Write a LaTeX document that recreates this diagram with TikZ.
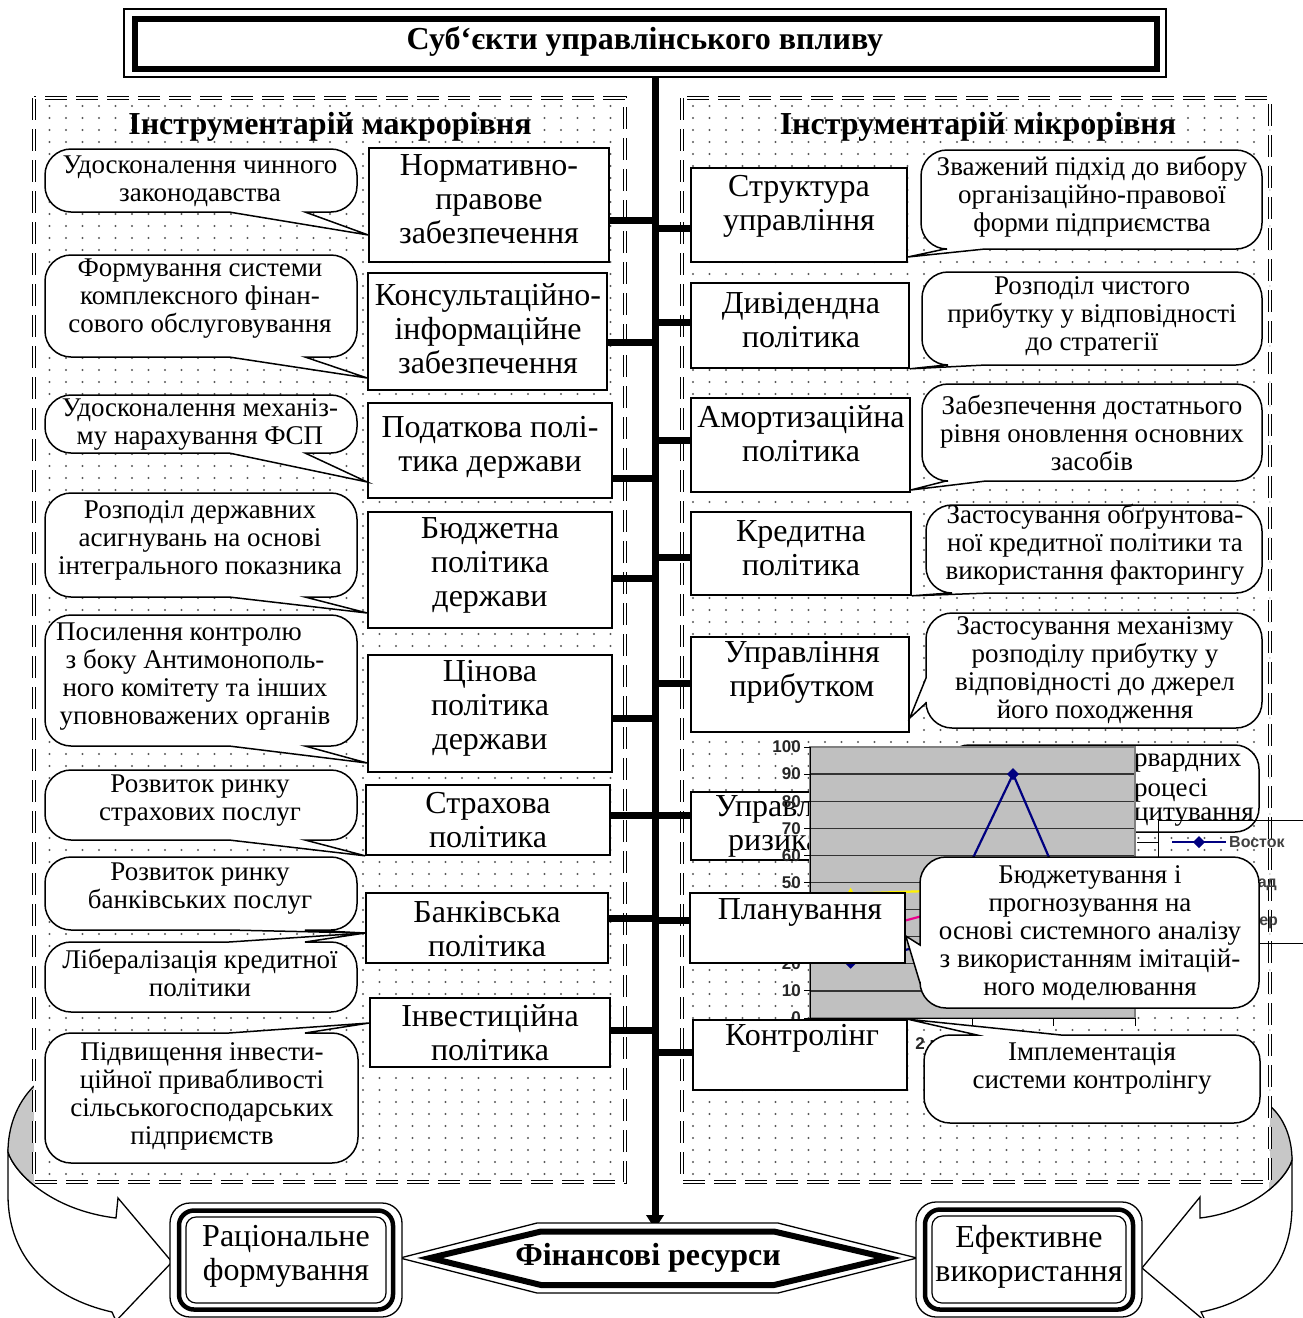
\documentclass[tikz,border=0pt]{standalone}
\usepackage{fontspec}
\setmainfont{Liberation Serif}
\newfontfamily\chartfont{Liberation Sans}
\usetikzlibrary{arrows.meta,patterns,calc}
\definecolor{navy}{RGB}{0,0,128}
\definecolor{chartgray}{RGB}{192,192,192}
\pgfdeclarepatternformonly{mydots}{\pgfqpoint{-1.5pt}{-1.5pt}}{\pgfqpoint{1.5pt}{1.5pt}}{\pgfqpoint{16.5pt}{12pt}}{\pgfpathcircle{\pgfqpoint{0pt}{0pt}}{1.2pt}\pgfusepath{fill}}
\def\crad{26}
\newcommand\rbox[5]{\node[box, minimum width={#4-#2}, minimum height={#5-#3}] (#1) at ({(#2+#4)/2},{(#3+#5)/2}) {};}
\newcommand\calB[7]{%
\path[callout] ({(#1+#3)/2},#2) -- ({#3-\crad},#2)
 .. controls ({#3-0.45*\crad},#2) and (#3,{#2+0.45*\crad}) .. (#3,{#2+\crad})
 -- (#3,{#4-\crad})
 .. controls (#3,{#4-0.45*\crad}) and ({#3-0.45*\crad},#4) .. ({#3-\crad},#4)
 -- (#6,#4) -- (#7) -- (#5,#4) -- ({#1+\crad},#4)
 .. controls ({#1+0.45*\crad},#4) and (#1,{#4-0.45*\crad}) .. (#1,{#4-\crad})
 -- (#1,{#2+\crad})
 .. controls (#1,{#2+0.45*\crad}) and ({#1+0.45*\crad},#2) .. ({#1+\crad},#2) -- cycle;}
\newcommand\calT[7]{%
\path[callout] ({(#1+#3)/2},#4) -- ({#1+\crad},#4)
 .. controls ({#1+0.45*\crad},#4) and (#1,{#4-0.45*\crad}) .. (#1,{#4-\crad})
 -- (#1,{#2+\crad})
 .. controls (#1,{#2+0.45*\crad}) and ({#1+0.45*\crad},#2) .. ({#1+\crad},#2)
 -- (#5,#2) -- (#7) -- (#6,#2) -- ({#3-\crad},#2)
 .. controls ({#3-0.45*\crad},#2) and (#3,{#2+0.45*\crad}) .. (#3,{#2+\crad})
 -- (#3,{#4-\crad})
 .. controls (#3,{#4-0.45*\crad}) and ({#3-0.45*\crad},#4) .. ({#3-\crad},#4) -- cycle;}
\newcommand\calL[7]{%
\path[callout] ({(#1+#3)/2},#2) -- ({#3-\crad},#2)
 .. controls ({#3-0.45*\crad},#2) and (#3,{#2+0.45*\crad}) .. (#3,{#2+\crad})
 -- (#3,{#4-\crad})
 .. controls (#3,{#4-0.45*\crad}) and ({#3-0.45*\crad},#4) .. ({#3-\crad},#4)
 -- ({#1+\crad},#4)
 .. controls ({#1+0.45*\crad},#4) and (#1,{#4-0.45*\crad}) .. (#1,{#4-\crad})
 -- (#1,#6) -- (#7) -- (#1,#5) -- (#1,{#2+\crad})
 .. controls (#1,{#2+0.45*\crad}) and ({#1+0.45*\crad},#2) .. ({#1+\crad},#2) -- cycle;}
\newcommand\dmd[2]{\fill[navy] (#1,{#2-6}) -- ({#1+6},#2) -- (#1,{#2+6}) -- ({#1-6},#2) -- cycle;}
\newcommand\sqm[2]{\fill[magenta] ({#1-4.5},{#2-4.5}) rectangle ({#1+4.5},{#2+4.5});}
\newcommand\trm[2]{\fill[yellow] (#1,{#2-6}) -- ({#1+6},{#2+5}) -- ({#1-6},{#2+5}) -- cycle;}
\newcommand\tribox[4]{%
 \draw[line width=1.3pt, fill=white, rounded corners=20pt] (#1,#2) rectangle (#3,#4);
 \draw[line width=4.5pt, rounded corners=15pt] ({#1+9},{#2+7.5}) rectangle ({#3-9},{#4-7.5});
 \draw[line width=1.2pt, rounded corners=10pt] ({#1+16},{#2+14}) rectangle ({#3-16},{#4-14});}
\begin{document}
\begin{tikzpicture}[x=1pt,y=-1pt,
  box/.style={draw, line width=1.6pt, fill=white, inner sep=0pt},
  btxt/.style={align=center, inner sep=0pt, font=\fontsize{32}{34}\selectfont},
  ctxt/.style={align=center, inner sep=0pt, font=\fontsize{27}{28}\selectfont},
  ttl/.style={inner sep=0pt, font=\fontsize{32}{34}\selectfont\bfseries},
  callout/.style={draw, fill=white, line width=1.5pt},
  conn/.style={line width=7pt},
  frame/.style={draw, double, double distance=2.2pt, line width=0.9pt, dash pattern=on 22pt off 9pt},
  axl/.style={inner sep=0pt, font=\chartfont\bfseries\fontsize{17}{17}\selectfont, text=black!85},
  lgl/.style={inner sep=0pt, font=\chartfont\bfseries\fontsize{16}{16}\selectfont, text=black!75},
  thin/.style={line width=1.3pt}]
\useasboundingbox (0,0) rectangle (1303,1318);
\clip (0,0) rectangle (1303,1318);

% ---------- curved arrows (behind frames)
\path[draw, fill=white, thin] (8,1152) .. controls (14,1172) and (50,1210) .. (116,1218) -- (118,1198) -- (172,1262) -- (116,1321) -- (112,1312) .. controls (50,1298) and (8,1258) .. (8,1195) -- cycle;
\begin{scope}
\clip (0,1050) rectangle (35,1250);
\path[fill=black!22] (34,1086) .. controls (16,1104) and (8,1128) .. (8,1152) .. controls (14,1172) and (50,1210) .. (116,1218) -- (116,1086) -- cycle;
\draw[thin] (8,1152) .. controls (14,1172) and (50,1210) .. (116,1218);
\end{scope}
\draw[thin] (34,1086) .. controls (16,1104) and (8,1128) .. (8,1152);

\path[draw, fill=white, thin] (1292,1160) .. controls (1286,1180) and (1252,1212) .. (1200,1218) -- (1200,1197) -- (1142,1268) -- (1206,1322) -- (1201,1312) .. controls (1262,1300) and (1292,1262) .. (1292,1205) -- cycle;
\begin{scope}
\clip (1269,1050) rectangle (1303,1250);
\path[fill=black!22] (1270,1106) .. controls (1284,1118) and (1292,1138) .. (1292,1160) .. controls (1286,1180) and (1252,1212) .. (1200,1218) -- (1200,1106) -- cycle;
\draw[thin] (1292,1160) .. controls (1286,1180) and (1252,1212) .. (1200,1218);
\end{scope}
\draw[thin] (1270,1106) .. controls (1284,1118) and (1292,1138) .. (1292,1160);

% ---------- frames
\path[fill=white] (34,98) rectangle (625,1182);
\path[pattern=mydots, pattern color=black!65] (34,98) rectangle (625,1182);
\draw[frame] (34,98) rectangle (625,1182);
\path[fill=white] (682,98) rectangle (1270,1182);
\path[pattern=mydots, pattern color=black!65] (682,98) rectangle (1270,1182);
\draw[frame] (682,98) rectangle (1270,1182);
\node[ttl] (macro) at (330,127) {Інструментарій макрорівня};
\node[ttl] (micro) at (978,127) {Інструментарій мікрорівня};

% ---------- title
\node[draw, line width=1.3pt, fill=white, minimum width=1042, minimum height=68, inner sep=0pt] (titlebox) at (645,43) {};
\draw[line width=6pt] (135,19) rectangle (1157,69);
\node[ttl] (title) at (645,41) {Суб`єкти управлінського впливу};

% ---------- spine
\coordinate (hextop) at (655,1229);
\draw[line width=7pt, -{Triangle[length=14pt,width=17pt]}] (titlebox.south -| hextop) -- (hextop);

% ---------- connectors
\foreach \yy in {220,342,478,578,718,815,918,1030} \draw[conn] (600,\yy) -- (655,\yy);
\foreach \yy in {228,322,440,557,683,815,920,1052} \draw[conn] (655,\yy) -- (700,\yy);

% ---------- left boxes
\rbox{l1}{369}{148}{609}{262}
\rbox{l2}{368}{273}{607}{390}
\rbox{l3}{368}{403}{612}{498}
\rbox{l4}{368}{512}{612}{628}
\rbox{l5}{368}{655}{612}{772}
\rbox{l6}{366}{785}{610}{855}
\rbox{l7}{366}{893}{608}{963}
\rbox{l8}{370}{998}{610}{1067}
\node[btxt] (l1t) at (489,199) {Нормативно-\\правове\\забезпечення};
\node[btxt] (l2t) at (488,329) {Консультаційно-\\інформаційне\\забезпечення};
\node[btxt] (l3t) at (490,447) {Податкова полі-\\тика держави};
\node[btxt] (l4t) at (490,565) {Бюджетна\\політика\\держави};
\node[btxt] (l5t) at (490,708) {Цінова\\політика\\держави};
\node[btxt] (l6t) at (488,820) {Страхова\\політика};
\node[btxt] (l7t) at (487,929) {Банківська\\політика};
\node[btxt] (l8t) at (490,1033) {Інвестиційна\\політика};

% ---------- left callouts
\calB{45}{149}{357}{212}{229}{305}{l1.west |- 0,235}
\calB{45}{255}{357}{357}{229}{305}{l2.west |- 0,378}
\calB{45}{395}{357}{453}{229}{305}{l3.west |- 0,482}
\calB{45}{493}{357}{597}{229}{305}{l4.west |- 0,613}
\calB{45}{615}{357}{746}{229}{305}{l5.west |- 0,763}
\calB{45}{770}{357}{840}{229}{305}{l6.south west}
\calB{45}{857}{357}{930}{229}{305}{l7.west |- 0,933}
\calT{45}{942}{357}{1012}{229}{305}{l7.west |- 0,933}
\calT{45}{1033}{358}{1163}{229}{305}{l8.west |- 0,1023}
\node[ctxt] (c1) at (200,181) {Удосконалення чинного\\законодавства};
\node[ctxt] (c2) at (200,299) {Формування системи\\комплексного фінан-\\сового обслуговування};
\node[ctxt] (c3) at (200,424) {Удосконалення механіз-\\му нарахування ФСП};
\node[ctxt] (c4) at (200,540) {Розподіл державних\\асигнувань на основі\\інтегрального показника};
\node[ctxt] (c5) at (195,677) {Посилення контролю\hspace*{32pt}\\з боку Антимонополь-\\ного комітету та інших\\уповноважених органів};
\node[ctxt] (c6) at (200,801) {Розвиток ринку\\страхових послуг};
\node[ctxt] (c7) at (200,889) {Розвиток ринку\\банківських послуг};
\node[ctxt] (c8) at (200,973) {Лібералізація кредитної\\політики};
\node[ctxt] (c9) at (202,1096) {Підвищення інвести-\\ційної привабливості\\сільськогосподарських\\підприємств};

% ---------- right boxes 1-6
\rbox{r1}{691}{168}{907}{262}
\rbox{r2}{691}{283}{909}{368}
\rbox{r3}{691}{398}{910}{492}
\rbox{r4}{691}{512}{911}{595}
\rbox{r5}{691}{637}{909}{732}
\rbox{r6}{691}{792}{905}{860}
\node[btxt] (r1t) at (799,206) {Структура\\управління};
\node[btxt] (r2t) at (801,320) {Дивідендна\\політика};
\node[btxt] (r3t) at (801,434) {Амортизаційна\\політика};
\node[btxt] (r4t) at (801,548) {Кредитна\\політика};
\node[btxt] (r5t) at (802,672) {Управління\\прибутком};
\node[btxt] (r6t) at (793,826) {Управління\\ризиками};

% ---------- right callouts 1-6
\calB{921}{150}{1262}{249}{945}{985}{r1.east |- 0,257}
\calB{922}{272}{1262}{365}{946}{986}{r2.south east}
\calB{922}{384}{1262}{481}{946}{986}{r3.east |- 0,490}
\calB{926}{505}{1262}{593}{950}{990}{r4.south east}
\calL{926}{613}{1262}{728}{678}{703}{r5.east |- 0,718}
\draw[callout, rounded corners=24pt] (945,745) rectangle (1259,832);
\node[ctxt] (rc1) at (1092,197) {Зважений підхід до вибору\\організаційно-правової\\форми підприємства};
\node[ctxt] (rc2) at (1092,316) {Розподіл чистого\\прибутку у відповідності\\до стратегії};
\node[ctxt] (rc3) at (1092,433) {Забезпечення достатнього\\рівня оновлення основних\\засобів};
\node[ctxt] (rc4) at (1095,545) {Застосування обґрунтова-\\ної кредитної політики та\\використання факторингу};
\node[ctxt] (rc5) at (1095,670) {Застосування механізму\\розподілу прибутку у\\відповідності до джерел\\його походження};
\node[ctxt, anchor=west] (rc6a) at (1134,763) {рвардних};
\node[ctxt, anchor=west] (rc6b) at (1134,790) {роцесі};
\node[ctxt, anchor=west] (rc6c) at (1134,817) {цитування};

% ---------- stray chart
\fill[chartgray] (810,747) rectangle (1135,1018);
\foreach \v in {10,20,...,90} \draw[line width=1.3pt, black!80] (810,{1018-2.71*\v}) -- (1135,{1018-2.71*\v});
\draw[line width=1.5pt, gray] (810,747) rectangle (1135,1018);
\draw[line width=1pt] (810,747) -- (810,1018) -- (1135,1018);
\foreach \v in {0,10,...,100} {
  \draw[line width=1pt] (804,{1018-2.71*\v}) -- (810,{1018-2.71*\v});
  \node[axl, anchor=east] (yl\v) at (801,{1018-2.71*\v}) {\v};}
\foreach \xx in {810,891.25,972.5,1053.75,1135} \draw[line width=1pt] (\xx,1018) -- (\xx,1026);
\node[axl] (cat2) at (932,1044) {2 кв};
\draw[navy, line width=2.2pt] (850.6,962.7) -- (931.9,943.7) -- (1013.1,774.1) -- (1094.4,962.7);
\dmd{850.6}{962.7}\dmd{931.9}{943.7}\dmd{1013.1}{774.1}\dmd{1094.4}{962.7}
\draw[magenta, line width=2.2pt] (850.6,935.1) -- (931.9,913.4) -- (1013.1,924.2) -- (1094.4,932.4);
\sqm{850.6}{935.1}\sqm{931.9}{913.4}\sqm{1013.1}{924.2}\sqm{1094.4}{932.4}
\draw[yellow, line width=2.2pt] (850.6,893.6) -- (931.9,890.9) -- (1013.1,896) -- (1094.4,899);
\trm{850.6}{893.6}\trm{931.9}{890.9}\trm{1013.1}{896}\trm{1094.4}{899}
% legend
\draw[line width=1pt] (1137,842) -- (1158,842);
\draw[line width=1pt] (1303,820) -- (1158,820) -- (1158,943) -- (1303,943);
\draw[navy, line width=2.2pt] (1172,842) -- (1226,842); \dmd{1199}{842}
\node[lgl, anchor=west] (lg1) at (1229,842) {Восток};
\draw[magenta, line width=2.2pt] (1172,883) -- (1226,883); \sqm{1199}{883}
\node[lgl, anchor=west] (lg2) at (1229,883) {Запад};
\draw[yellow, line width=2.2pt] (1172,922) -- (1226,922); \trm{1199}{922}
\node[lgl, anchor=west] (lg3) at (1229,922) {Север};

% ---------- right boxes 7-8 and callouts
\rbox{r7}{690}{893}{905}{963}
\rbox{r8}{693}{1020}{907}{1090}
\node[btxt] (r7t) at (800,912) {Планування};
\node[btxt] (r8t) at (802,1038) {Контролінг};
\calL{920}{857}{1259}{1008}{945}{983}{r7.east |- 0,936}
\calT{924}{1035}{1260}{1123}{977}{1061}{r8.north east}
\node[ctxt] (rc7) at (1090,933) {Бюджетування і\\прогнозування на\\основі системного аналізу\\з використанням імітацій-\\ного моделювання};
\node[ctxt] (rc8) at (1092,1068) {Імплементація\\системи контролінгу};

% ---------- bottom
\draw[thin, fill=white] (400,1258) -- (537,1223) -- (778,1223) -- (917,1258) -- (778,1293) -- (537,1293) -- cycle;
\draw[line width=6pt] (430,1258) -- (541,1231.5) -- (774,1231.5) -- (888,1258) -- (774,1285) -- (541,1285) -- cycle;
\node[ttl] (fin) at (648,1258) {Фінансові ресурси};
\tribox{170}{1203}{402}{1317}
\tribox{916}{1202}{1142}{1317}
\node[btxt] (rat) at (286,1256) {Раціональне\\формування};
\node[btxt] (eff) at (1029,1257) {Ефективне\\використання};
\end{tikzpicture}
\end{document}
